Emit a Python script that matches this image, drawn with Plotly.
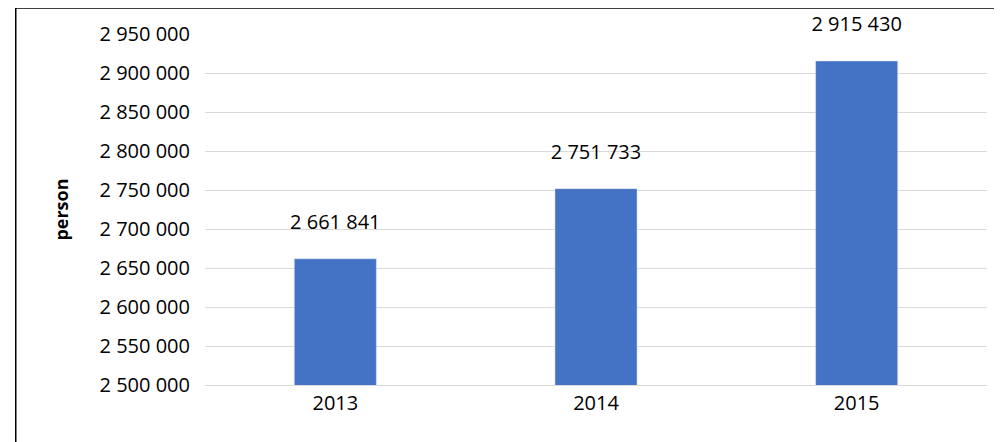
import plotly.graph_objects as go

years = ["2013", "2014", "2015"]
persons = [2661841, 2751733, 2915430]

fig = go.Figure(
    go.Bar(
        x=years,
        y=persons,
        marker_color="#4472C4",
        width=0.315,
        texttemplate="%{y:,}<br><span style='font-size:3px'> </span>",
        textposition="outside",
        constraintext="none",
        textfont=dict(size=20, color="#000"),
        cliponaxis=False,
    )
)

fig.update_yaxes(
    range=[2500000, 2950000],
    dtick=50000,
    tickformat=",",
    gridcolor="#D9D9D9",
    showline=False,
    zeroline=False,
    ticks="",
    ticklabelstandoff=14,
    tickfont=dict(size=20, color="#000"),
    title_text="<b>person</b>",
    title_font=dict(size=18, color="#000"),
    title_standoff=26,
)
fig.update_xaxes(
    type="category",
    showline=True,
    linecolor="#D9D9D9",
    tickfont=dict(size=20, color="#000"),
    ticks="",
)

# outer frame of the picture
fig.add_shape(
    type="rect", xref="paper", yref="paper",
    x0=-0.242, x1=1.013, y0=-0.3, y1=1.074,
    line=dict(color="#000", width=1.5), layer="above",
)

fig.update_layout(
    width=1002,
    height=442,
    margin=dict(l=197, r=23, t=26, b=65),
    separators=". ",
    font=dict(family="Open Sans, Liberation Sans, sans-serif"),
    plot_bgcolor="#FFF",
    paper_bgcolor="#FFF",
    showlegend=False,
)

fig.write_html("out.html")
